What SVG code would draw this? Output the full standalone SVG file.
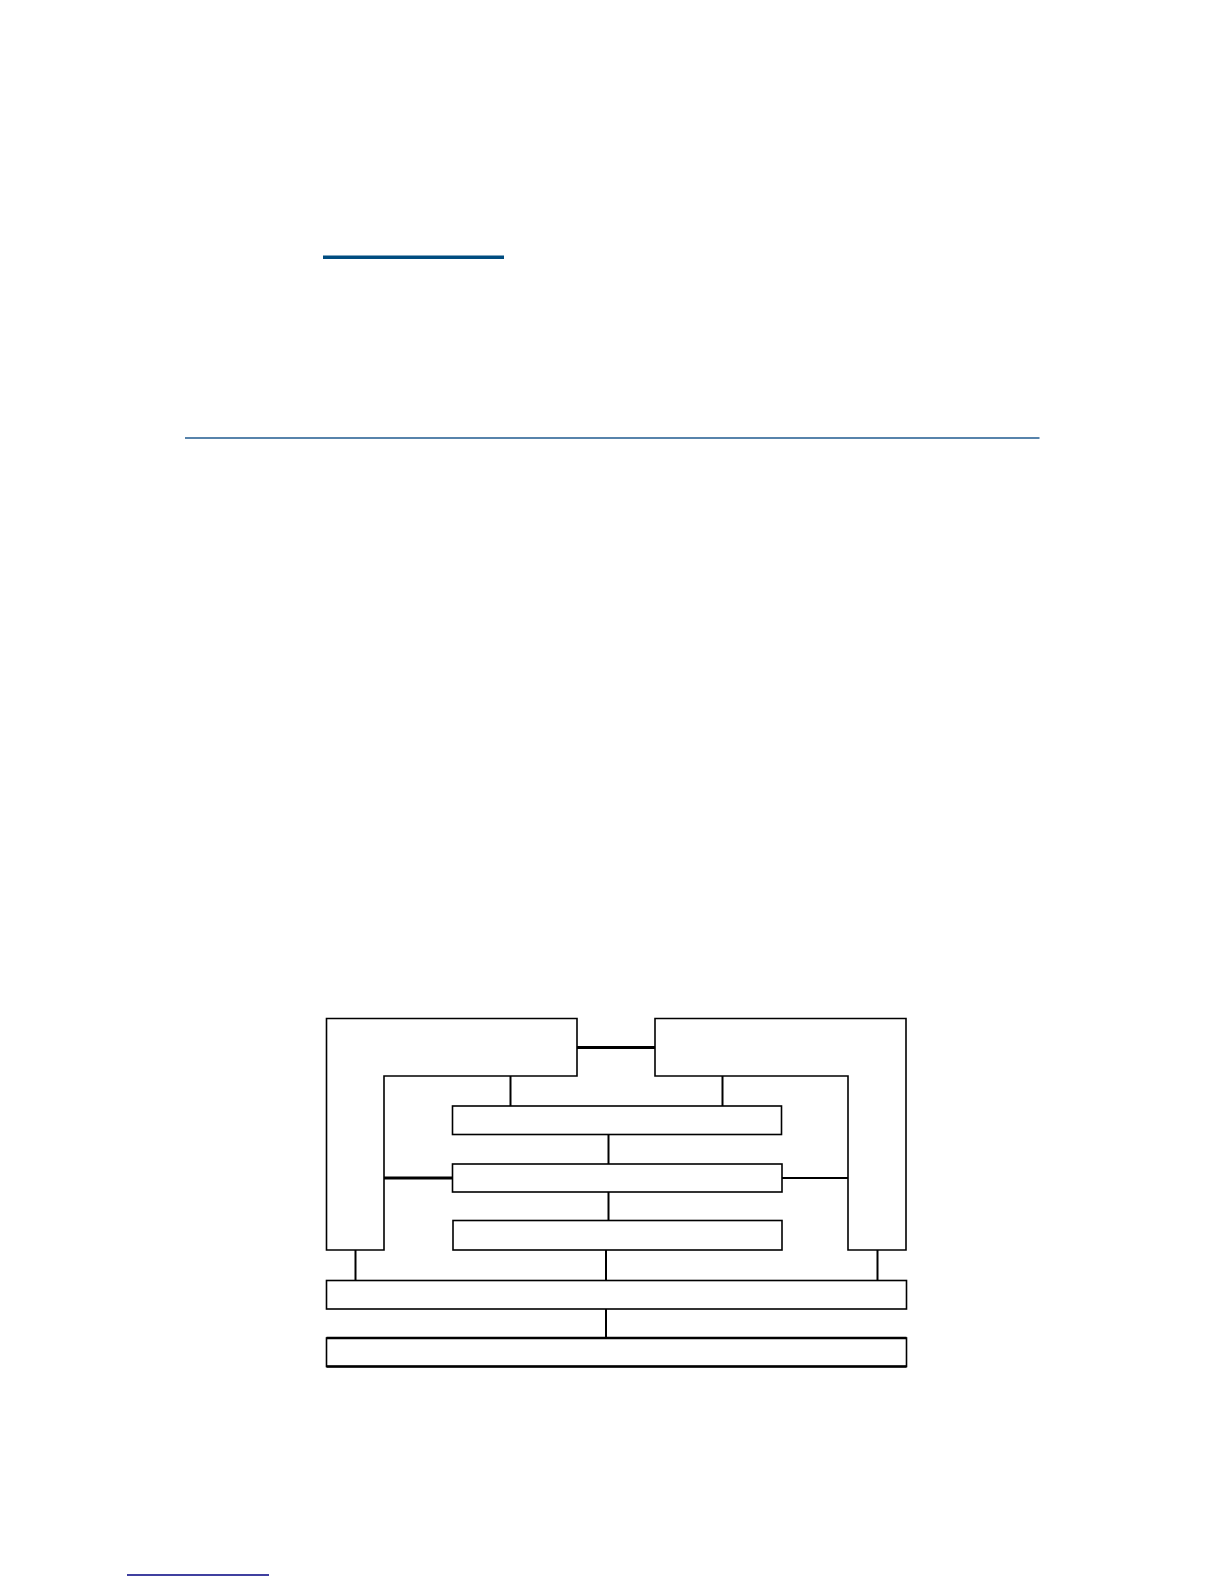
<svg xmlns="http://www.w3.org/2000/svg" width="1224" height="1584" viewBox="0 0 1224 1584">
<style>
.box{fill:#fff;stroke:#000;stroke-width:1.6}
.con{stroke:#000;stroke-width:2;fill:none}
.thick{stroke:#000;stroke-width:3;fill:none}
</style>
<rect x="0" y="0" width="1224" height="1584" fill="#fff"/>
<g id="decor">
<rect x="323" y="255.5" width="181" height="3.5" fill="#004c80"/>
<line x1="185" y1="438" x2="1039.5" y2="438" stroke="#1f5a8f" stroke-width="1.5"/>
<line x1="127" y1="1575" x2="269" y2="1575" stroke="#000080" stroke-width="1.5"/>
</g>
<g id="connectors">
<line class="thick" x1="577" y1="1047.5" x2="655" y2="1047.5"/>
<line class="con" x1="510.5" y1="1076" x2="510.5" y2="1106"/>
<line class="con" x1="722.5" y1="1076" x2="722.5" y2="1106"/>
<line class="con" x1="608.5" y1="1134.5" x2="608.5" y2="1164"/>
<line class="con" x1="608.5" y1="1192" x2="608.5" y2="1220.5"/>
<line class="thick" x1="384" y1="1178" x2="452.5" y2="1178"/>
<line class="con" x1="782" y1="1178" x2="848" y2="1178"/>
<line class="con" x1="355.5" y1="1250" x2="355.5" y2="1280.5"/>
<line class="con" x1="606" y1="1250" x2="606" y2="1280.5"/>
<line class="con" x1="877.5" y1="1250" x2="877.5" y2="1280.5"/>
<line class="con" x1="606" y1="1309" x2="606" y2="1338"/>
</g>
<g id="node-left-l">
<path class="box" d="M326.5,1018.5 H577 V1076 H384 V1250 H326.5 Z"/>
</g>
<g id="node-right-l">
<path class="box" d="M655,1018.5 H906 V1250 H848 V1076 H655 Z"/>
</g>
<g id="node-box1">
<rect class="box" x="452.5" y="1106" width="329" height="28.5"/>
</g>
<g id="node-box2">
<rect class="box" x="452.5" y="1164" width="329.5" height="28"/>
</g>
<g id="node-box3">
<rect class="box" x="453" y="1220.5" width="329" height="29.5"/>
</g>
<g id="node-box4">
<rect class="box" x="326.5" y="1280.5" width="580" height="28.5"/>
</g>
<g id="node-box5">
<rect class="box" x="326.5" y="1338" width="580" height="28.5"/>
<line x1="326.5" y1="1338" x2="906.5" y2="1338" stroke="#000" stroke-width="2.6"/>
<line x1="326.5" y1="1366.5" x2="906.5" y2="1366.5" stroke="#000" stroke-width="2.6"/>
</g>
</svg>
